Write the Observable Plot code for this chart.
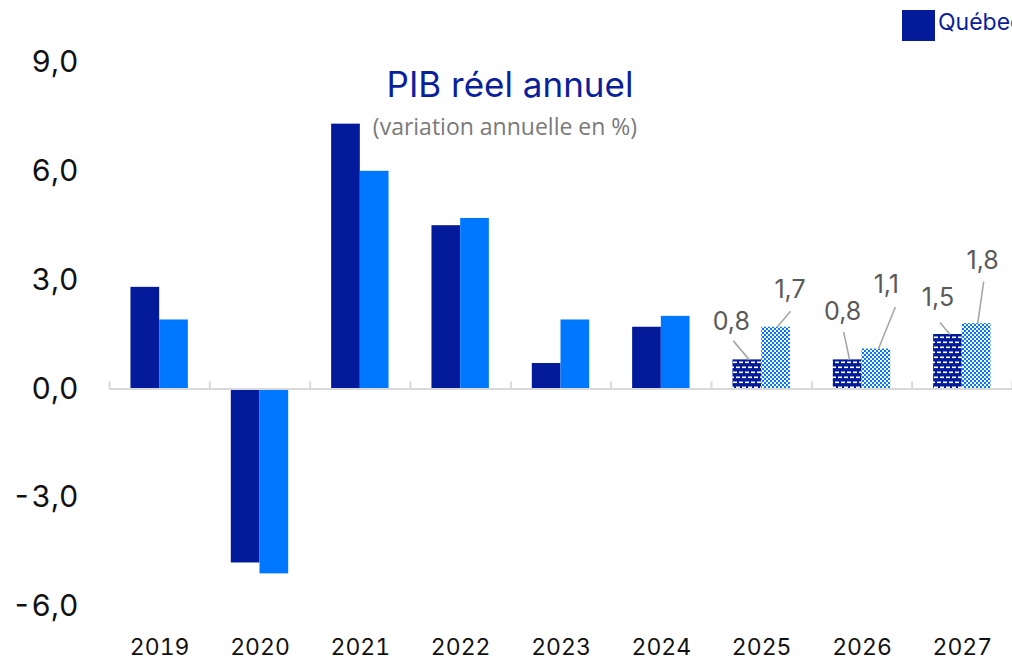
<!DOCTYPE html>
<html>
<head>
<meta charset="utf-8">
<script src="https://cdn.jsdelivr.net/npm/d3@7"></script>
<script src="https://cdn.jsdelivr.net/npm/@observablehq/plot@0.6"></script>
<style>
  html, body { margin: 0; padding: 0; background: #fff; overflow: hidden; width: 1012px; height: 660px; }
  #wrap { position: relative; width: 1012px; height: 660px; overflow: hidden; }
  #chart { position: absolute; left: 0; top: 0; }
  #title { position: absolute; left: 0; width: 1020px; top: 67px; text-align: center; font-family: Inter, sans-serif; font-size: 35px; color: #0a1f9c; line-height: 1; }
  #subtitle { position: absolute; left: 0; width: 1010px; top: 115px; text-align: center; font-family: "Open Sans", sans-serif; font-size: 23px; color: #7a7a7a; line-height: 1; }
  #legend { position: absolute; left: 902px; top: 10px; white-space: nowrap; font-family: Inter, sans-serif; font-size: 23px; color: #0a1f9c; display: flex; align-items: flex-start; }
  #legend .sw { display: inline-block; width: 33px; height: 31px; margin-right: 3px; }
  #legend .lbl { margin-right: 20px; line-height: 24px; }
</style>
</head>
<body>
<div id="wrap">
  <div id="chart"></div>
  <div id="title">PIB réel annuel</div>
  <div id="subtitle">(variation annuelle en %)</div>
  <div id="legend">
    <span class="sw" style="background:#031a9b"></span><span class="lbl">Québec</span>
  </div>
</div>
<script>
// ---- data ----
const years = ["2019", "2020", "2021", "2022", "2023", "2024", "2025", "2026", "2027"];
const quebec = [2.8, -4.8, 7.3, 4.5, 0.7, 1.7, 0.8, 0.8, 1.5];
const canada = [1.9, -5.1, 6.0, 4.7, 1.9, 2.0, 1.7, 1.1, 1.8];
const forecastYears = ["2025", "2026", "2027"];
const yTicks = [-6, -3, 0, 3, 6, 9];

// ---- layout / style (pixels) ----
const W = 1012, H = 660, mL = 109, mR = 0, mT = 62, mB = 54;
const yDomain = [-6, 9];
const pxX = (W - mL - mR) / years.length;     // px per band
const pxY = (H - mT - mB) / (yDomain[1] - yDomain[0]); // px per unit
const barW = 28.7 / pxX; // bar width in band units
const navy = "#031a9b", blue = "#0077ff";

// label placement offsets (px from bar top-center): text (tx,ty), leader start (sx,sy), leader end (ex)
const labelLayout = {
  "2025": { q: [-16, -38, -14, -19, 2], c: [14, -37, 14.5, -16, 1] },
  "2026": { q: [-5, -48, -4, -28, 2],   c: [10, -64, 19, -42, 2] },
  "2027": { q: [-10, -37, -8, -12, 2],  c: [6, -63, 7, -42, 1] }
};

const fmt = v => v.toFixed(1).replace(".", ",");

const rows = [];
years.forEach((y, i) => {
  const fc = forecastYears.includes(y);
  rows.push({ year: y, i, series: "Québec", value: quebec[i], fc, x1: i + 0.5 - barW, x2: i + 0.5, cx: i + 0.5 - barW / 2, key: "q" });
  rows.push({ year: y, i, series: "Canada", value: canada[i], fc, x1: i + 0.5, x2: i + 0.5 + barW, cx: i + 0.5 + barW / 2, key: "c" });
});

const labels = rows.filter(d => d.fc).map(d => {
  const L = labelLayout[d.year][d.key];
  return {
    text: fmt(d.value),
    tx: d.cx + L[0] / pxX, ty: d.value - L[1] / pxY,
    sx: d.cx + L[2] / pxX, sy: d.value - L[3] / pxY,
    ex: d.cx + L[4] / pxX, ey: d.value
  };
});

const chart = Plot.plot({
  width: W, height: H,
  marginLeft: mL, marginRight: mR, marginTop: mT, marginBottom: mB,
  style: { fontFamily: "Inter, sans-serif", color: "#111", background: "white", overflow: "visible" },
  x: { type: "linear", domain: [0, years.length] },
  y: { domain: yDomain },
  marks: [
    Plot.rectY(rows.filter(d => !d.fc && d.key === "q"), { x1: "x1", x2: "x2", y1: 0, y2: "value", fill: navy }),
    Plot.rectY(rows.filter(d => !d.fc && d.key === "c"), { x1: "x1", x2: "x2", y1: 0, y2: "value", fill: blue }),
    Plot.rectY(rows.filter(d => d.fc && d.key === "q"), { x1: "x1", x2: "x2", y1: 0, y2: "value", fill: "url(#patQ)" }),
    Plot.rectY(rows.filter(d => d.fc && d.key === "c"), { x1: "x1", x2: "x2", y1: 0, y2: "value", fill: "url(#patC)" }),
    Plot.ruleY([0], { stroke: "#d9d9d9", strokeWidth: 2 }),
    Plot.ruleX(d3.range(0, years.length + 1), { y1: 0, y2: 7 / pxY, stroke: "#d9d9d9", strokeWidth: 2 }),
    Plot.link(labels, { x1: "sx", y1: "sy", x2: "ex", y2: "ey", stroke: "#a6a6a6", strokeWidth: 1.6 }),
    Plot.text(labels, { x: "tx", y: "ty", text: "text", fill: "#595959", fontSize: 25, fontFamily: "Inter, sans-serif" }),
    Plot.axisY({ ticks: yTicks, tickFormat: fmt, tickSize: 0, tickPadding: 31, fontSize: 30, label: null, fill: "#111" }),
    Plot.axisX({ ticks: years.map((d, i) => i + 0.5), tickFormat: d => years[Math.floor(d)], tickSize: 0, tickPadding: 32, fontSize: 23, label: null, fill: "#111" })
  ]
});

d3.select(chart).insert("defs", ":first-child").html(`
  <pattern id="patQ" patternUnits="userSpaceOnUse" width="6" height="10">
    <rect width="6" height="10" fill="${navy}"/>
    <rect x="1" y="1.5" width="4" height="1.6" fill="#fff"/>
    <rect x="4" y="6.5" width="4" height="1.6" fill="#fff"/>
    <rect x="-2" y="6.5" width="4" height="1.6" fill="#fff"/>
  </pattern>
  <pattern id="patC" patternUnits="userSpaceOnUse" width="4" height="4">
    <rect width="4" height="4" fill="${blue}"/>
    <rect x="0" y="0" width="2" height="2" fill="#fff"/>
    <rect x="2" y="2" width="2" height="2" fill="#fff"/>
  </pattern>
`);

document.getElementById("chart").appendChild(chart);
</script>
</body>
</html>
